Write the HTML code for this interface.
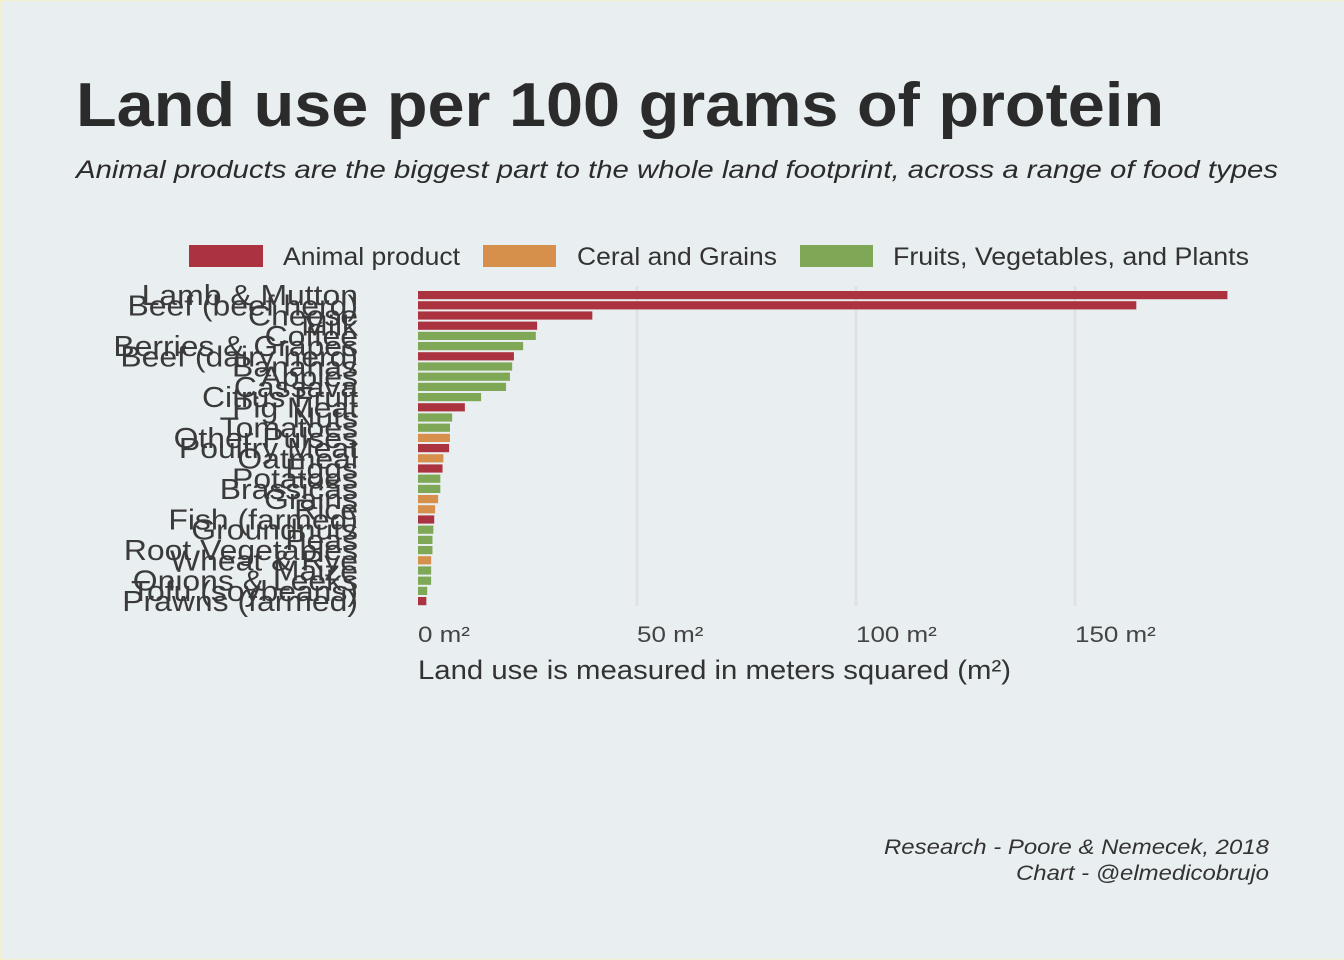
<!DOCTYPE html>
<html><head><meta charset="utf-8"><style>
body{margin:0;background:#fff}
#wrap{position:relative;width:1342px;height:958px;background:#e9eef0;border:1px solid #f2f0c8;overflow:hidden;font-family:"Liberation Sans",sans-serif;color:#333}
</style></head><body>
<div id="wrap">
<svg id="chart" width="1342" height="958" style="position:absolute;left:0;top:0">
<text x="75" y="125" font-size="62" font-weight="bold" fill="#2b2b2b" textLength="1088" lengthAdjust="spacingAndGlyphs">Land use per 100 grams of protein</text>
<text x="75" y="177" font-size="25" font-style="italic" fill="#2b2b2b" textLength="1202" lengthAdjust="spacingAndGlyphs">Animal products are the biggest part to the whole land footprint, across a range of food types</text>
<g>
<rect x="188" y="244" width="74" height="22" fill="#ab3340"/>
<text x="282" y="264" font-size="25" fill="#333" textLength="177" lengthAdjust="spacingAndGlyphs">Animal product</text>
<rect x="482" y="244" width="73" height="22" fill="#d78f4c"/>
<text x="576" y="264" font-size="25" fill="#333" textLength="200" lengthAdjust="spacingAndGlyphs">Ceral and Grains</text>
<rect x="799" y="244" width="73" height="22" fill="#7ea756"/>
<text x="892" y="264" font-size="25" fill="#333" textLength="356" lengthAdjust="spacingAndGlyphs">Fruits, Vegetables, and Plants</text>
</g>
<g id="grid"></g><g id="bars"></g><g id="labels"></g><g id="ticks"></g>
<text x="417" y="678" font-size="27" fill="#333" textLength="593" lengthAdjust="spacingAndGlyphs">Land use is measured in meters squared (m²)</text>
<text x="1268" y="853" font-size="21" font-style="italic" text-anchor="end" fill="#333" textLength="385" lengthAdjust="spacingAndGlyphs">Research - Poore &amp; Nemecek, 2018</text>
<text x="1268" y="879" font-size="21" font-style="italic" text-anchor="end" fill="#333" textLength="253" lengthAdjust="spacingAndGlyphs">Chart - @elmedicobrujo</text>
</svg>
</div>
<script>
const categories=["Lamb & Mutton","Beef (beef herd)","Cheese","Milk","Coffee","Berries & Grapes","Beef (dairy herd)","Bananas","Apples","Cassava","Citrus Fruit","Pig Meat","Nuts","Tomatoes","Other Pulses","Poultry Meat","Oatmeal","Eggs","Potatoes","Brassicas","Grains","Rice","Fish (farmed)","Groundnuts","Peas","Root Vegetables","Wheat & Rye","Maize","Onions & Leeks","Tofu (soybeans)","Prawns (farmed)"];
const values=[184.8,164,39.8,27.2,26.9,24.0,21.9,21.5,21.0,20.1,14.4,10.7,7.8,7.3,7.3,7.1,5.8,5.6,5.1,5.1,4.6,3.9,3.7,3.5,3.3,3.3,3.0,3.0,3.0,2.1,1.9];
const groups=["a","a","a","a","p","p","a","p","p","p","p","a","p","p","c","a","c","a","p","p","c","c","a","p","p","p","c","p","p","p","a"];
const tickValues=[0,50,100,150];
const tickLabels=["0 m²","50 m²","100 m²","150 m²"];
const colors={a:"#ab3340",c:"#d78f4c",p:"#7ea756"};
const NS="http://www.w3.org/2000/svg";
const x=v=>417+v*4.38;
const y0=290,step=10.2,bh=8.2;
const y=i=>y0+i*step;
function mk(tag,attrs,parent){const e=document.createElementNS(NS,tag);for(const k in attrs)e.setAttribute(k,attrs[k]);document.getElementById(parent).appendChild(e);return e;}
tickValues.forEach((t,i)=>{
  if(t>0){const g=mk("line",{x1:x(t),x2:x(t),y1:285,y2:605,stroke:"#dfe1e2","stroke-width":3},"grid");
  
  }
  const l=mk("text",{x:x(t),y:641,"font-size":22,fill:"#444"},"ticks");l.textContent=tickLabels[i];
  
  
  const tw=l.getComputedTextLength();
  l.setAttribute('textLength',tw*1.18);
  l.setAttribute('lengthAdjust','spacingAndGlyphs');
});
categories.forEach((c,i)=>{
  const r=mk("rect",{x:x(0),y:y(i),width:x(values[i])-x(0),height:bh,fill:colors[groups[i]]},"bars");
  
  
  const t=mk("text",{x:357,y:y(i)+bh/2+10,"font-size":29,"text-anchor":"end",fill:"#3a3a3a"},"labels");
  t.textContent=c;
  
  
  const w=t.getComputedTextLength();
  t.setAttribute('textLength',w*1.1);
  t.setAttribute('lengthAdjust','spacingAndGlyphs');
});
</script>
</body></html>
